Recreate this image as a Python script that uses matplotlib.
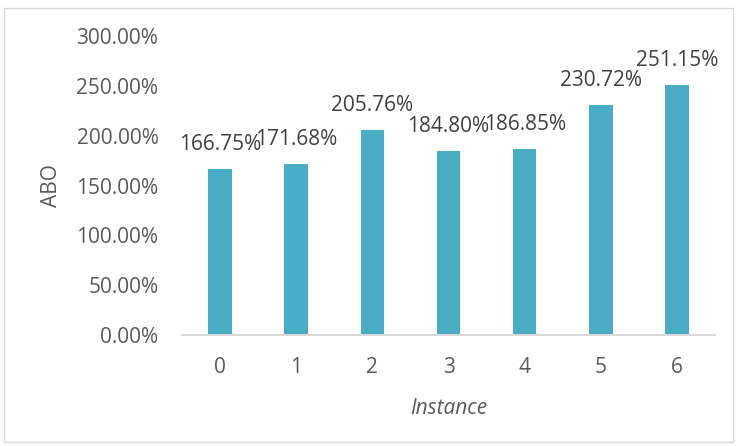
import matplotlib
matplotlib.use("Agg")
import matplotlib.pyplot as plt
from matplotlib.patches import Rectangle

categories = ["0", "1", "2", "3", "4", "5", "6"]
values = [166.75, 171.68, 205.76, 184.80, 186.85, 230.72, 251.15]
yticks = [0, 50, 100, 150, 200, 250, 300]

plt.rcParams['font.family'] = ['Open Sans', 'DejaVu Sans']
txt = '#595959'
fs = 15

fig = plt.figure(figsize=(7.37, 4.46), dpi=100)
ax = fig.add_axes([182/737, 1-335/446, (715-182)/737, (335-36)/446])
x = list(range(len(categories)))
bars = ax.bar(x, values, width=0.31, color='#4BACC6')
ax.set_xlim(-0.5, len(categories)-0.5)
ax.set_ylim(0, 300)
ax.set_yticks(yticks)
ax.set_yticklabels([f"{v:.2f}%" for v in yticks], color=txt, fontsize=fs)
ax.set_xticks(x)
ax.set_xticklabels(categories, color=txt, fontsize=fs)
ax.tick_params(axis='y', length=0, pad=17)
ax.tick_params(axis='x', length=0, pad=16)
for s in ['top', 'right', 'left']:
    ax.spines[s].set_visible(False)
ax.spines['bottom'].set_color('#D9D9D9')
ax.spines['bottom'].set_linewidth(1.5)
for xi, v in zip(x, values):
    ax.annotate(f"{v:.2f}%", (xi, v), xytext=(0, 10), textcoords='offset points',
                ha='center', va='bottom', color='#404040', fontsize=fs)
ax.set_ylabel("ABO", color=txt, fontsize=fs, labelpad=10)
ax.set_xlabel("Instance", color=txt, fontsize=fs, fontstyle='italic', labelpad=14)
fig.patches.append(Rectangle((4/737, 4/446), 729/737, 434/446, transform=fig.transFigure,
                             fill=False, edgecolor='#D9D9D9', linewidth=1))
fig.savefig("out.png", dpi=100)
